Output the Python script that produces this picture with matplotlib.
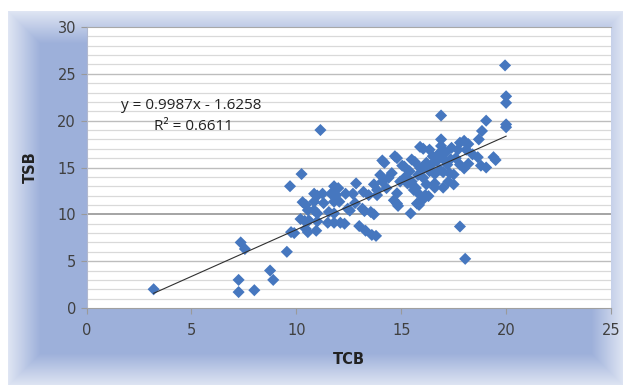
import numpy as np
import matplotlib
matplotlib.use('Agg')
from matplotlib import pyplot as plt
from matplotlib.colors import to_rgb

# TCB (x) and TSB (y)
tcb = [3.2, 7.25, 7.25, 8.0, 7.35, 7.55, 8.75, 8.9, 9.55, 9.7, 9.9, 10.25,
       10.3, 10.85, 11.3, 11.8, 12.05, 12.8,
       10.85, 11.25, 11.65, 11.9, 12.35, 12.7, 13.2, 13.45, 13.85,
       11.8, 12.85, 13.7, 14.1,
       10.55, 10.85, 11.55, 12.45, 13.15, 13.55,
       10.2, 10.6, 11.0, 11.5, 11.8, 12.1, 13.0,
       9.75, 10.45, 10.55, 10.95, 13.3, 13.6, 13.8,
       11.15, 11.0, 10.45, 10.4, 12.0, 12.55, 13.25, 13.7, 11.8, 11.0, 12.3,
       14.1, 14.7, 15.5, 16.35, 16.9, 17.4, 17.8, 18.0, 16.7, 17.6, 18.4,
       17.8, 18.2, 18.8, 15.05, 14.55, 14.0, 15.4, 15.9, 16.35, 16.85, 17.3,
       14.95, 15.5, 16.05, 16.6, 17.25, 13.85, 14.3, 14.8, 15.6, 15.9, 16.6,
       17.0, 14.65, 14.8, 15.75, 16.15, 15.45, 15.9, 16.9, 18.7, 18.85,
       14.2, 14.8, 15.15, 15.2, 15.65, 16.05, 16.9, 17.5, 17.5, 17.8, 18.05,
       18.0, 18.2, 18.65, 19.05, 19.05, 19.4, 19.5, 19.95, 20.0, 20.0, 20.0,
       20.0, 16.3, 16.0, 15.85, 14.85,
       16.2, 16.5, 16.8, 17.1, 16.4, 17.0, 17.2, 16.6, 15.8, 16.0, 17.0,
       15.6, 16.2, 15.7, 17.7, 18.1, 14.4, 15.3, 16.9, 17.35]
tsb = [2.0, 3.0, 1.7, 1.9, 7.0, 6.3, 4.0, 3.0, 6.0, 13.0, 8.0, 14.3,
       11.3, 11.35, 11.2, 11.35, 11.35, 11.2,
       12.2, 12.2, 12.2, 12.05, 12.2, 12.2, 12.4, 12.05, 12.05,
       13.0, 13.3, 13.2, 13.5,
       10.45, 10.45, 10.25, 10.6, 10.6, 10.25,
       9.5, 9.35, 9.25, 9.1, 9.1, 9.1, 8.75,
       8.1, 8.45, 8.1, 8.25, 8.25, 7.8, 7.7,
       19.0, 12.0, 11.0, 9.3, 12.8, 10.4, 10.35, 10.0, 10.1, 10.1, 9.0,
       15.75, 16.2, 15.85, 16.9, 17.3, 17.1, 17.65, 17.85, 15.7, 16.0, 16.4,
       15.3, 15.4, 15.2, 15.2, 14.4, 14.2, 14.6, 14.95, 14.6, 14.75, 14.4,
       13.5, 13.5, 13.9, 13.3, 13.5, 12.6, 12.8, 12.25, 12.6, 12.05, 12.85,
       12.85, 11.5, 11.15, 11.15, 12.05, 10.1, 17.2, 18.0, 18.0, 18.9,
       15.5, 16.0, 15.1, 14.0, 15.6, 17.0, 20.55, 13.2, 14.25, 8.7, 5.25,
       14.9, 17.5, 16.1, 20.0, 15.0, 16.1, 15.8, 25.9, 22.6, 21.9, 19.6,
       19.3, 11.95, 11.5, 11.0, 10.9,
       15.5, 16.2, 16.5, 16.6, 15.2, 15.9, 15.3, 14.3, 14.2, 15.0, 14.5,
       13.0, 13.2, 12.8, 16.9, 16.9, 13.9, 13.3, 16.2, 15.9]

slope, intercept = 0.9987, -1.6258
eq_text = 'y = 0.9987x - 1.6258'
r2_text = 'R² = 0.6611'

W, H = 623, 385
fig = plt.figure(figsize=(W / 100, H / 100), dpi=100)

# soft blue frame behind the chart
bg = fig.add_axes([0, 0, 1, 1])
xx, yy = np.meshgrid(np.arange(W), np.arange(H))
d = np.minimum.reduce([xx - 8, yy - 11, W - xx, H - yy]).astype(float)
t = np.clip(d / 32.0, 0, 1)[..., None]
light = np.array(to_rgb('#dfe5f3'))
dark = np.array(to_rgb('#9db0da'))
img = light * (1 - t) + dark * t
img[(xx < 8) | (yy < 11)] = 1.0
bg.imshow(img, extent=[0, W, H, 0], aspect='auto', interpolation='bilinear')
bg.set_axis_off()

ax = fig.add_axes([86.5 / W, 1 - 308 / H, (611 - 86.5) / W, (308 - 27) / H])
ax.set_facecolor('white')
ax.set_xlim(0, 25)
ax.set_ylim(0, 30)

for v in range(1, 30):
    if v == 10:
        c, lw = '#8c8c8c', 1.1
    elif v % 5 == 0:
        c, lw = '#bdbdbd', 1.0
    else:
        c, lw = '#d9d9d9', 0.9
    ax.axhline(v, color=c, lw=lw, zorder=1)

ax.scatter(tcb, tsb, marker='D', s=38, color='#4677bf', edgecolors='none', zorder=3)

xs = np.array([min(tcb), max(tcb)])
ax.plot(xs, slope * xs + intercept, color='#303030', lw=0.8, zorder=4)

ax.text(1.65, 21.65, eq_text, fontsize=11, color='#222222', va='center',
        family='Open Sans', zorder=5)
ax.text(3.2, 19.4, r2_text, fontsize=11, color='#222222', va='center',
        family='Open Sans', zorder=5)

ax.set_xticks(range(0, 26, 5))
ax.set_yticks(range(0, 31, 5))
ax.tick_params(axis='both', colors='#9a9a9a', labelcolor='#404040',
               labelsize=10.5, length=4, direction='out')
ax.tick_params(axis='x', pad=7)
ax.spines['right'].set_visible(False)
ax.spines['top'].set_color('#a8a8a8')
ax.spines['left'].set_color('#b0b8d0')
ax.spines['bottom'].set_color('#a0a0a0')

ax.set_xlabel('TCB', fontsize=10.5, fontweight='bold', color='#222222', labelpad=10)
ax.set_ylabel('TSB', fontsize=10.5, fontweight='bold', color='#222222', labelpad=14)

plt.savefig('out.png', dpi=100)
